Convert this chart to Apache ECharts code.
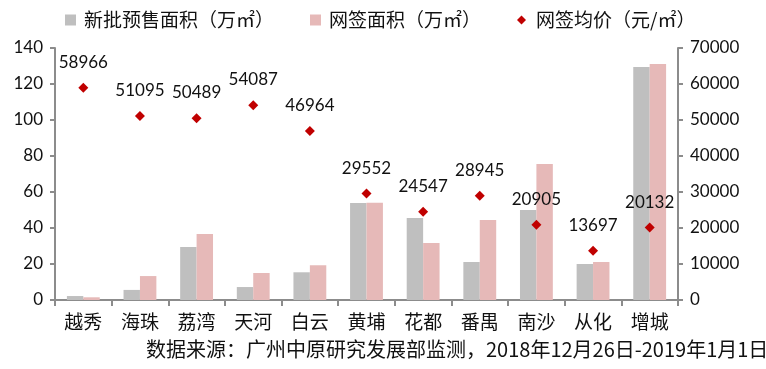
<!DOCTYPE html>
<html>
<head>
<meta charset="utf-8">
<script src="https://cdn.jsdelivr.net/npm/echarts@6/dist/echarts.min.js"></script>
<style>html,body{margin:0;padding:0;background:#fff;}#c{width:766px;height:369px;}</style>
</head>
<body>
<div id="c"></div>
<script>
const categories = ['越秀','海珠','荔湾','天河','白云','黄埔','花都','番禺','南沙','从化','增城'];
const newSupply = [2.2, 5.6, 29.4, 7.2, 15.4, 53.9, 45.6, 21.1, 50, 20, 129.4];
const signedArea = [1.5, 13.3, 36.7, 15, 19.3, 54, 31.7, 44.4, 75.6, 21.1, 131.1];
const avgPrice = [58966, 51095, 50489, 54087, 46964, 29552, 24547, 28945, 20905, 13697, 20132];
const seriesNames = ['新批预售面积（万㎡）', '网签面积（万㎡）', '网签均价（元/㎡）'];
const sourceText = '数据来源：广州中原研究发展部监测，2018年12月26日-2019年1月1日';

const CJK = '"Noto Sans CJK SC", sans-serif';
const NUM = 'Lato, "Open Sans", sans-serif';
const axisColor = '#8c8c8c';
const textColor = '#111';

const chart = echarts.init(document.getElementById('c'), null, {renderer: 'canvas'});
const legendText = {fontFamily: CJK, fontSize: 19, color: textColor, lineHeight: 22, padding: [0, 0, 0, 3]};
chart.setOption({
  animation: false,
  grid: {left: 55, right: 88, top: 48, bottom: 69, containLabel: false},
  legend: [
    {data: [seriesNames[0]], left: 60, top: 4, itemWidth: 11, itemHeight: 11, icon: 'rect', textStyle: legendText},
    {data: [seriesNames[1]], left: 305, top: 4, itemWidth: 11, itemHeight: 11, icon: 'rect', textStyle: legendText},
    {data: [seriesNames[2]], left: 512, top: 4, itemWidth: 9, itemHeight: 9, icon: 'diamond', textStyle: Object.assign({}, legendText, {padding: [0, 0, 0, 5]})}
  ],
  xAxis: {
    type: 'category',
    data: categories,
    axisLine: {lineStyle: {color: axisColor, width: 2}},
    axisTick: {show: true, length: 6, lineStyle: {color: axisColor, width: 2}},
    axisLabel: {fontFamily: CJK, fontSize: 19, color: textColor, margin: 12}
  },
  yAxis: [
    {
      type: 'value', min: 0, max: 140, interval: 20,
      splitLine: {show: false},
      axisLine: {show: true, lineStyle: {color: axisColor, width: 2}},
      axisTick: {show: true, length: 5, lineStyle: {color: axisColor, width: 2}},
      axisLabel: {fontFamily: NUM, fontSize: 17, color: textColor, margin: 12}
    },
    {
      type: 'value', min: 0, max: 70000, interval: 10000,
      splitLine: {show: false},
      axisLine: {show: true, lineStyle: {color: axisColor, width: 2}},
      axisTick: {show: true, length: 5, lineStyle: {color: axisColor, width: 2}},
      axisLabel: {fontFamily: NUM, fontSize: 17, color: textColor, margin: 12, formatter: v => String(v)}
    }
  ],
  series: [
    {name: seriesNames[0], type: 'bar', data: newSupply, barGap: '0%', barCategoryGap: '42%', itemStyle: {color: '#BFBFBF'}},
    {name: seriesNames[1], type: 'bar', data: signedArea, itemStyle: {color: '#E6B9B8'}},
    {name: seriesNames[2], type: 'scatter', yAxisIndex: 1, data: avgPrice, symbol: 'diamond', symbolSize: 10,
     itemStyle: {color: '#C00000', opacity: 1},
     label: {show: true, position: 'top', distance: 12, fontFamily: NUM, fontSize: 17, color: textColor}}
  ],
  graphic: [
    {type: 'text', left: 146, top: 339, style: {text: sourceText, font: '20px "Noto Sans CJK SC", sans-serif', fill: textColor}}
  ]
});
</script>
</body>
</html>
